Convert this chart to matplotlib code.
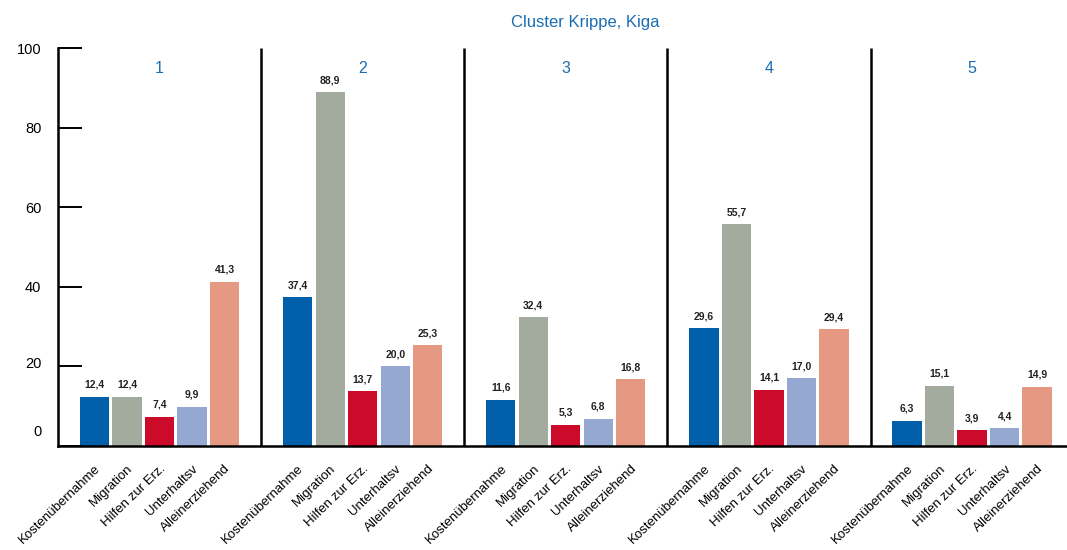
import numpy as np
from matplotlib import pyplot as plt
from matplotlib import transforms

plt.rcParams['font.family'] = ['Liberation Sans', 'DejaVu Sans']

# data
categories = ['Kostenübernahme', 'Migration', 'Hilfen zur Erz.', 'Unterhaltsv', 'Alleinerziehend']
clusters = ['1', '2', '3', '4', '5']
kosten = [12.4, 37.4, 11.6, 29.6, 6.3]
migration = [12.4, 88.9, 32.4, 55.7, 15.1]
hilfen = [7.4, 13.7, 5.3, 14.1, 3.9]
unterhalt = [9.9, 20.0, 6.8, 17.0, 4.4]
allein = [41.3, 25.3, 16.8, 29.4, 14.9]
series = [kosten, migration, hilfen, unterhalt, allein]
colors = ['#005fa8', '#a3aa9e', '#cc0a2a', '#95a8d2', '#e59882']

blue = '#1a6db3'
gw = 6.25  # width of one cluster in bar units

fig = plt.figure(figsize = (10.67, 5.5), dpi = 100)
ax = fig.add_axes([58/1067, 104/550, 1 - 58/1067, 398/550])

ticks, labels = [], []
for i in range(len(clusters)):
    c = gw*i + gw/2
    for j in range(len(series)):
        x = c + (j - 2)
        v = series[j][i]
        ax.bar(x, v, width = 0.9, color = colors[j])
        ax.annotate(('%.1f' % v).replace('.', ','), (x, v), xytext = (0, 5), textcoords = 'offset points',
                    ha = 'center', va = 'bottom', fontsize = 7.5, fontweight = 'bold', color = '#222222')
        ticks.append(x)
        labels.append(categories[j])
    ax.text(c, 94.8, clusters[i], ha = 'center', va = 'center', fontsize = 11.5, color = blue)
    if i > 0:
        ax.plot([gw*i, gw*i], [0, 100], color = 'black', lw = 1.8, solid_capstyle = 'butt')

ax.set_xlim(0, (1067 - 58)/32.5)
ax.set_ylim(0, 100)
for s in ['top', 'right']:
    ax.spines[s].set_visible(False)
ax.spines['left'].set_linewidth(1.8)
ax.spines['bottom'].set_linewidth(1.8)

ax.set_yticks(np.arange(0, 101, 20))
ax.tick_params(axis = 'y', direction = 'in', length = 17, width = 1.4, pad = 12, labelsize = 10.5)
# the 0 and 20 labels sit a little above their ticks in the original
ylabs = ax.get_yticklabels()
for k, dy in [(0, 16), (1, 4)]:
    ylabs[k].set_transform(ylabs[k].get_transform() + transforms.ScaledTranslation(0, dy/100, fig.dpi_scale_trans))

ax.set_xticks(ticks)
ax.set_xticklabels(labels, rotation = 44, ha = 'right', va = 'top', rotation_mode = 'anchor', fontsize = 9.5)
ax.tick_params(axis = 'x', length = 0, pad = 12)

fig.text(585/1067, 1 - 22/550, 'Cluster Krippe, Kiga', ha = 'center', va = 'center', fontsize = 12, color = blue)

plt.savefig('out.png', dpi = 100)
